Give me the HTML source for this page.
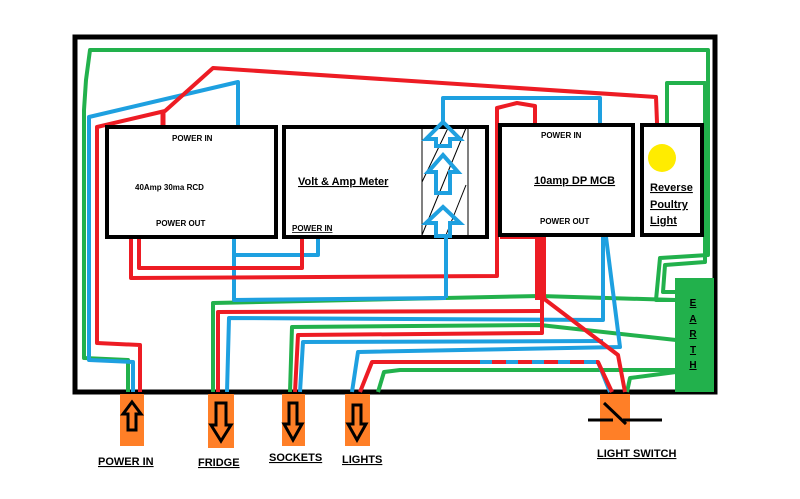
<!DOCTYPE html>
<html><head><meta charset="utf-8"><style>
html,body{margin:0;padding:0;background:#fff;}
svg{display:block;}
text{font-family:"Liberation Sans",sans-serif;font-weight:bold;}
</style></head><body>
<svg width="800" height="499" viewBox="0 0 800 499" xmlns="http://www.w3.org/2000/svg">
<rect x="0" y="0" width="800" height="499" fill="#fff"/>
<rect x="75" y="37" width="640" height="355" fill="none" stroke="#000" stroke-width="5"/>
<rect x="675" y="278" width="39" height="114" fill="#22b14c"/>
<g fill="none" stroke-linejoin="round" stroke-width="4">
<polyline stroke="#22b14c" points="128,392 128,360 84,358 84,110 86,80 90,50 708,50 708,255 660,258 656,300 676,300"/>
<polyline stroke="#22b14c" points="667,148 667,83 705,83 705,262 665,265 663,292 676,292"/>
<polyline stroke="#22b14c" points="213,392 213,303 540,296 676,300"/>
<polyline stroke="#22b14c" points="290,392 292,327 540,325 676,340"/>
<polyline stroke="#22b14c" points="378,392 384,372 400,370 676,370"/>
<polyline stroke="#22b14c" points="627,392 630,378 676,372"/>
<polyline stroke="#1ea0e0" points="133,392 133,362 89,360 89,117 238,82 238,127"/>
<polyline stroke="#1ea0e0" points="234,237 234,300 446,298"/>
<polyline stroke="#1ea0e0" points="234,255 318,255 318,237"/>
<polyline stroke="#1ea0e0" points="443,127 443,98 600,98 600,127"/>
<polyline stroke="#1ea0e0" points="227,392 229,318 603,320 603,237"/>
<polyline stroke="#1ea0e0" points="300,392 303,342 603,341"/>
<polyline stroke="#1ea0e0" points="352,392 358,352 620,347 606,237"/>
<polyline stroke="#1ea0e0" points="610,392 598,362"/>
<polyline stroke="#ed1c24" points="140,392 140,345 97,343 97,127 165,111 213,68 656,97 658,148"/>
<polyline stroke="#ed1c24" stroke-width="5" points="163,127 163,112"/>
<polyline stroke="#ed1c24" points="131,237 131,278 497,276 497,108 517,103 535,106 535,127"/>
<polyline stroke="#ed1c24" points="139,237 139,268 302,268 302,237"/>
<polyline stroke="#ed1c24" points="500,237 540,237"/>
<polyline stroke="#ed1c24" points="218,392 218,312 540,311"/>
<polyline stroke="#ed1c24" points="295,392 298,335 542,333 542,298"/>
<polyline stroke="#ed1c24" points="360,392 372,362 598,362 612,392"/>
<polyline stroke="#1ea0e0" stroke-dasharray="12,14" points="480,362 598,362"/>
<polyline stroke="#ed1c24" points="543,298 618,355 625,392"/>
</g>
<rect x="535" y="235" width="11" height="65" fill="#ed1c24"/>
<g fill="#fff" stroke="#000" stroke-width="4">
<rect x="107" y="127" width="169" height="110"/>
<rect x="284" y="127" width="203" height="110"/>
<rect x="500" y="125" width="133" height="110"/>
<rect x="642" y="125" width="60" height="110"/>
</g>
<line x1="422" y1="129" x2="422" y2="235" stroke="#000" stroke-width="1"/>
<line x1="468" y1="129" x2="468" y2="235" stroke="#000" stroke-width="1"/>
<g stroke="#000" stroke-width="1"><line x1="422" y1="182" x2="448" y2="128"/><line x1="422" y1="235" x2="466" y2="128"/><line x1="446" y1="235" x2="466" y2="185"/></g>
<g fill="none" stroke="#1ea0e0" stroke-width="4" stroke-linejoin="miter">
<polygon points="443,122 460,139 450,139 450,146 436,146 436,139 426,139"/>
<polygon points="443,155 458,172 450,172 450,193 436,193 436,172 428,172"/>
<polygon points="443,207 460,223 450,223 450,236 436,236 436,223 426,223"/>
</g>
<line x1="446" y1="237" x2="446" y2="298" stroke="#1ea0e0" stroke-width="4"/>
<circle cx="662" cy="158" r="14" fill="#ffec00"/>
<text x="172" y="141" font-size="8">POWER IN</text>
<text x="135" y="190" font-size="8">40Amp 30ma RCD</text>
<text x="156" y="226" font-size="8">POWER OUT</text>
<text x="298" y="185" font-size="11" text-decoration="underline">Volt &amp; Amp Meter</text>
<text x="292" y="231" font-size="8" text-decoration="underline">POWER IN</text>
<text x="541" y="138" font-size="8">POWER IN</text>
<text x="534" y="184" font-size="11" text-decoration="underline">10amp DP MCB</text>
<text x="540" y="224" font-size="8">POWER OUT</text>
<g font-size="11" text-decoration="underline"><text x="650" y="191">Reverse</text><text x="650" y="208">Poultry</text><text x="650" y="224">Light</text></g>
<g font-size="10" text-decoration="underline" text-anchor="middle"><text x="693" y="306">E</text><text x="693" y="322">A</text><text x="693" y="337">R</text><text x="693" y="353">T</text><text x="693" y="368">H</text></g>
<g fill="#ff7f27"><rect x="120" y="394" width="24" height="52"/><rect x="208" y="394" width="26" height="54"/><rect x="282" y="394" width="23" height="52"/><rect x="345" y="394" width="25" height="52"/><rect x="600" y="394" width="30" height="46"/></g>
<g fill="none" stroke="#000" stroke-width="3">
<polygon points="132,402 141,414 136,414 136,430 128,430 128,414 123,414"/>
<polygon points="221,441 231,425 226,425 226,403 216,403 216,425 211,425"/>
<polygon points="293,440 302,424 297,424 297,403 289,403 289,424 284,424"/>
<polygon points="357,440 366,424 361,424 361,405 353,405 353,424 348,424"/>
</g>
<g stroke="#000" stroke-width="3"><line x1="588" y1="420" x2="613" y2="420"/><line x1="604" y1="403" x2="626" y2="424"/><line x1="623" y1="420" x2="662" y2="420"/></g>
<g font-size="11" text-decoration="underline">
<text x="98" y="465">POWER IN</text><text x="198" y="466">FRIDGE</text><text x="269" y="461">SOCKETS</text><text x="342" y="463">LIGHTS</text><text x="597" y="457">LIGHT SWITCH</text></g>
</svg>
</body></html>
